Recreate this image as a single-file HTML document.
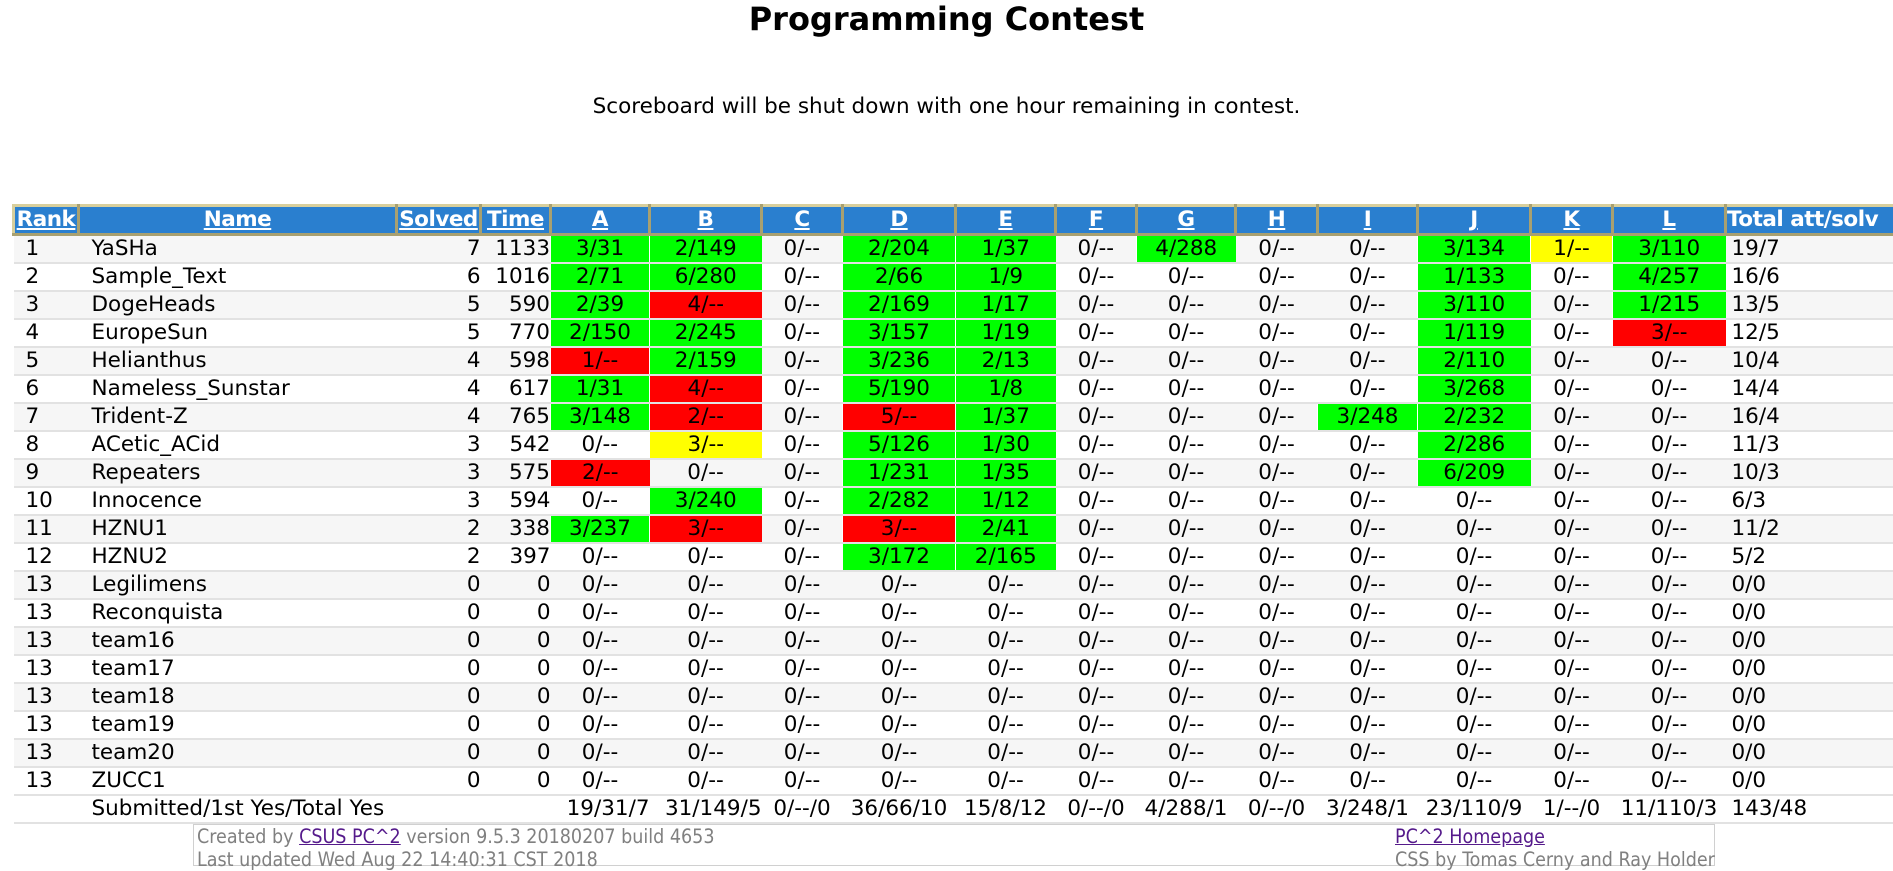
<!DOCTYPE html>
<html><head><meta charset="utf-8">
<style>
html,body{margin:0;padding:0;background:#fff;width:1893px;height:856px;overflow:hidden;font-family:"DejaVu Sans","Liberation Sans",sans-serif;}
h1{position:absolute;left:0;width:1893px;top:0px;margin:0;text-align:center;font-size:32px;font-weight:bold;}
.sub{position:absolute;left:0;width:1893px;top:94px;text-align:center;font-size:21.5px;}
table{position:absolute;left:12px;top:204px;border-collapse:collapse;table-layout:fixed;width:1881px;font-size:21.5px;line-height:26px;}
th{background:#2a7fcf;color:#fff;font-weight:bold;text-decoration:underline;height:26px;padding:0;border:3px solid #d8cf9c;border-right-color:#a8a070;border-bottom-color:#a8a070;white-space:nowrap;overflow:hidden;font-size:21.5px;letter-spacing:-0.5px;}
th.t{text-align:left;text-decoration:none;}
td{height:26px;padding:0;border-bottom:2px solid #e2e2e2;text-align:center;white-space:nowrap;overflow:hidden;}
tr:nth-child(odd) td{background:#f6f6f6;}
tbody tr td:nth-child(1){text-align:left;padding-left:12px;}
tbody tr td:nth-child(2){text-align:left;padding-left:13px;}
tbody tr td:nth-child(3),tbody tr td:nth-child(4){text-align:right;}
tbody tr td:nth-child(17){text-align:left;padding-left:6px;}
tr td.g{background:#00ff00 !important;border-left:1px solid #fff;}
tr td.r{background:#ff0000 !important;border-left:1px solid #fff;}
tr td.y{background:#ffff00 !important;border-left:1px solid #fff;}
tr.s td{background:#fff !important;}
.foot{position:absolute;left:193px;top:824px;width:1520px;height:40px;border:1px solid #d0d0d0;font-family:"DejaVu Sans Condensed","DejaVu Sans",sans-serif;font-size:19.5px;color:#808080;}
.foot a{color:#551a8b;text-decoration:underline;}
</style></head><body>
<h1>Programming Contest</h1>
<div class="sub">Scoreboard will be shut down with one hour remaining in contest.</div>
<table>
<colgroup><col style="width:65px"><col style="width:318px"><col style="width:84px"><col style="width:70px"><col style="width:99px"><col style="width:112px"><col style="width:81px"><col style="width:113px"><col style="width:100px"><col style="width:81px"><col style="width:99px"><col style="width:82px"><col style="width:100px"><col style="width:113px"><col style="width:82px"><col style="width:113px"><col style="width:169px"></colgroup>
<thead><tr><th>Rank</th><th>Name</th><th>Solved</th><th>Time</th><th>A</th><th>B</th><th>C</th><th>D</th><th>E</th><th>F</th><th>G</th><th>H</th><th>I</th><th>J</th><th>K</th><th>L</th><th class="t">Total att/solv</th></tr></thead>
<tbody>
<tr><td>1</td><td>YaSHa</td><td>7</td><td>1133</td><td class="g">3/31</td><td class="g">2/149</td><td>0/--</td><td class="g">2/204</td><td class="g">1/37</td><td>0/--</td><td class="g">4/288</td><td>0/--</td><td>0/--</td><td class="g">3/134</td><td class="y">1/--</td><td class="g">3/110</td><td>19/7</td></tr>
<tr><td>2</td><td>Sample_Text</td><td>6</td><td>1016</td><td class="g">2/71</td><td class="g">6/280</td><td>0/--</td><td class="g">2/66</td><td class="g">1/9</td><td>0/--</td><td>0/--</td><td>0/--</td><td>0/--</td><td class="g">1/133</td><td>0/--</td><td class="g">4/257</td><td>16/6</td></tr>
<tr><td>3</td><td>DogeHeads</td><td>5</td><td>590</td><td class="g">2/39</td><td class="r">4/--</td><td>0/--</td><td class="g">2/169</td><td class="g">1/17</td><td>0/--</td><td>0/--</td><td>0/--</td><td>0/--</td><td class="g">3/110</td><td>0/--</td><td class="g">1/215</td><td>13/5</td></tr>
<tr><td>4</td><td>EuropeSun</td><td>5</td><td>770</td><td class="g">2/150</td><td class="g">2/245</td><td>0/--</td><td class="g">3/157</td><td class="g">1/19</td><td>0/--</td><td>0/--</td><td>0/--</td><td>0/--</td><td class="g">1/119</td><td>0/--</td><td class="r">3/--</td><td>12/5</td></tr>
<tr><td>5</td><td>Helianthus</td><td>4</td><td>598</td><td class="r">1/--</td><td class="g">2/159</td><td>0/--</td><td class="g">3/236</td><td class="g">2/13</td><td>0/--</td><td>0/--</td><td>0/--</td><td>0/--</td><td class="g">2/110</td><td>0/--</td><td>0/--</td><td>10/4</td></tr>
<tr><td>6</td><td>Nameless_Sunstar</td><td>4</td><td>617</td><td class="g">1/31</td><td class="r">4/--</td><td>0/--</td><td class="g">5/190</td><td class="g">1/8</td><td>0/--</td><td>0/--</td><td>0/--</td><td>0/--</td><td class="g">3/268</td><td>0/--</td><td>0/--</td><td>14/4</td></tr>
<tr><td>7</td><td>Trident-Z</td><td>4</td><td>765</td><td class="g">3/148</td><td class="r">2/--</td><td>0/--</td><td class="r">5/--</td><td class="g">1/37</td><td>0/--</td><td>0/--</td><td>0/--</td><td class="g">3/248</td><td class="g">2/232</td><td>0/--</td><td>0/--</td><td>16/4</td></tr>
<tr><td>8</td><td>ACetic_ACid</td><td>3</td><td>542</td><td>0/--</td><td class="y">3/--</td><td>0/--</td><td class="g">5/126</td><td class="g">1/30</td><td>0/--</td><td>0/--</td><td>0/--</td><td>0/--</td><td class="g">2/286</td><td>0/--</td><td>0/--</td><td>11/3</td></tr>
<tr><td>9</td><td>Repeaters</td><td>3</td><td>575</td><td class="r">2/--</td><td>0/--</td><td>0/--</td><td class="g">1/231</td><td class="g">1/35</td><td>0/--</td><td>0/--</td><td>0/--</td><td>0/--</td><td class="g">6/209</td><td>0/--</td><td>0/--</td><td>10/3</td></tr>
<tr><td>10</td><td>Innocence</td><td>3</td><td>594</td><td>0/--</td><td class="g">3/240</td><td>0/--</td><td class="g">2/282</td><td class="g">1/12</td><td>0/--</td><td>0/--</td><td>0/--</td><td>0/--</td><td>0/--</td><td>0/--</td><td>0/--</td><td>6/3</td></tr>
<tr><td>11</td><td>HZNU1</td><td>2</td><td>338</td><td class="g">3/237</td><td class="r">3/--</td><td>0/--</td><td class="r">3/--</td><td class="g">2/41</td><td>0/--</td><td>0/--</td><td>0/--</td><td>0/--</td><td>0/--</td><td>0/--</td><td>0/--</td><td>11/2</td></tr>
<tr><td>12</td><td>HZNU2</td><td>2</td><td>397</td><td>0/--</td><td>0/--</td><td>0/--</td><td class="g">3/172</td><td class="g">2/165</td><td>0/--</td><td>0/--</td><td>0/--</td><td>0/--</td><td>0/--</td><td>0/--</td><td>0/--</td><td>5/2</td></tr>
<tr><td>13</td><td>Legilimens</td><td>0</td><td>0</td><td>0/--</td><td>0/--</td><td>0/--</td><td>0/--</td><td>0/--</td><td>0/--</td><td>0/--</td><td>0/--</td><td>0/--</td><td>0/--</td><td>0/--</td><td>0/--</td><td>0/0</td></tr>
<tr><td>13</td><td>Reconquista</td><td>0</td><td>0</td><td>0/--</td><td>0/--</td><td>0/--</td><td>0/--</td><td>0/--</td><td>0/--</td><td>0/--</td><td>0/--</td><td>0/--</td><td>0/--</td><td>0/--</td><td>0/--</td><td>0/0</td></tr>
<tr><td>13</td><td>team16</td><td>0</td><td>0</td><td>0/--</td><td>0/--</td><td>0/--</td><td>0/--</td><td>0/--</td><td>0/--</td><td>0/--</td><td>0/--</td><td>0/--</td><td>0/--</td><td>0/--</td><td>0/--</td><td>0/0</td></tr>
<tr><td>13</td><td>team17</td><td>0</td><td>0</td><td>0/--</td><td>0/--</td><td>0/--</td><td>0/--</td><td>0/--</td><td>0/--</td><td>0/--</td><td>0/--</td><td>0/--</td><td>0/--</td><td>0/--</td><td>0/--</td><td>0/0</td></tr>
<tr><td>13</td><td>team18</td><td>0</td><td>0</td><td>0/--</td><td>0/--</td><td>0/--</td><td>0/--</td><td>0/--</td><td>0/--</td><td>0/--</td><td>0/--</td><td>0/--</td><td>0/--</td><td>0/--</td><td>0/--</td><td>0/0</td></tr>
<tr><td>13</td><td>team19</td><td>0</td><td>0</td><td>0/--</td><td>0/--</td><td>0/--</td><td>0/--</td><td>0/--</td><td>0/--</td><td>0/--</td><td>0/--</td><td>0/--</td><td>0/--</td><td>0/--</td><td>0/--</td><td>0/0</td></tr>
<tr><td>13</td><td>team20</td><td>0</td><td>0</td><td>0/--</td><td>0/--</td><td>0/--</td><td>0/--</td><td>0/--</td><td>0/--</td><td>0/--</td><td>0/--</td><td>0/--</td><td>0/--</td><td>0/--</td><td>0/--</td><td>0/0</td></tr>
<tr><td>13</td><td>ZUCC1</td><td>0</td><td>0</td><td>0/--</td><td>0/--</td><td>0/--</td><td>0/--</td><td>0/--</td><td>0/--</td><td>0/--</td><td>0/--</td><td>0/--</td><td>0/--</td><td>0/--</td><td>0/--</td><td>0/0</td></tr>
<tr class="s"><td></td><td colspan="3" style="text-align:left;padding-left:13px">Submitted/1st Yes/Total Yes</td><td>19/31/7</td><td>31/149/5</td><td>0/--/0</td><td>36/66/10</td><td>15/8/12</td><td>0/--/0</td><td>4/288/1</td><td>0/--/0</td><td>3/248/1</td><td>23/110/9</td><td>1/--/0</td><td>11/110/3</td><td style="text-align:left;padding-left:6px">143/48</td></tr>
</tbody></table>
<div class="foot">
<div style="position:absolute;left:3px;top:0px;white-space:nowrap">Created by <a>CSUS PC^2</a> version 9.5.3 20180207 build 4653</div>
<div style="position:absolute;left:3px;top:23px;white-space:nowrap">Last updated Wed Aug 22 14:40:31 CST 2018</div>
<div style="position:absolute;left:1201px;top:0px;white-space:nowrap"><a>PC^2 Homepage</a></div>
<div style="position:absolute;left:1201px;top:23px;white-space:nowrap">CSS by Tomas Cerny and Ray Holder</div>
</div>
</body></html>
